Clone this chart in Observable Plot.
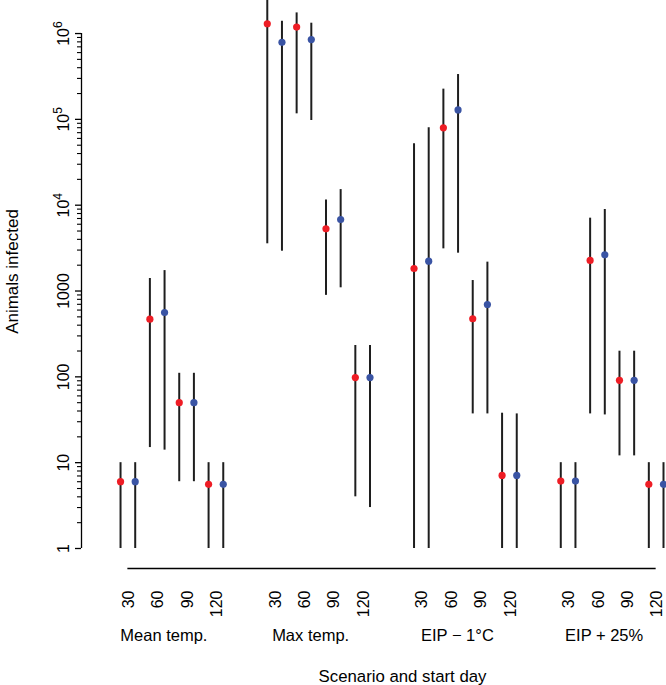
<!DOCTYPE html>
<html>
<head>
<meta charset="utf-8">
<script src="https://cdn.jsdelivr.net/npm/d3@7"></script>
<script src="https://cdn.jsdelivr.net/npm/@observablehq/plot@0.6"></script>
<style>
  html, body { margin: 0; padding: 0; background: #fff; }
  svg { font-family: "Liberation Sans", Arial, Helvetica, sans-serif; }
</style>
</head>
<body>
<div id="chart"></div>
<script>
// ---- data ----
const scenarios = ["Mean temp.", "Max temp.", "EIP \u2212 1\u00B0C", "EIP + 25%"];
const startDays = [30, 60, 90, 120];
const yTicks = [1, 10, 100, 1000, 1e4, 1e5, 1e6];
const yTickLabels = ["1", "10", "100", "1000", "10^4", "10^5", "10^6"];

// red series (per scenario, per start day)
const redEst  = [[6, 470, 50, 5.6], [1.3e6, 1.19e6, 5300, 98], [1830, 7.97e4, 475, 7.1], [6.1, 2270, 91, 5.6]];
const redLow  = [[1, 15, 6, 1], [3550, 1.16e5, 890, 4], [1, 3100, 37, 1], [1, 37, 12, 1]];
const redHigh = [[10, 1400, 110, 10], [3e6, 1.74e6, 1.15e4, 232], [5.2e4, 2.25e5, 1325, 37.7], [10, 7060, 199, 10]];
// blue series
const blueEst  = [[6, 562, 50, 5.6], [7.9e5, 8.5e5, 6810, 98], [2230, 1.29e5, 697, 7.1], [6.1, 2640, 91, 5.6]];
const blueLow  = [[1, 14, 6, 1], [2910, 9.7e4, 1090, 3], [1, 2760, 37, 1], [1, 36, 12, 1]];
const blueHigh = [[10, 1730, 110, 10], [1.39e6, 1.32e6, 1.52e4, 232], [8.0e4, 3.33e5, 2170, 37], [10, 8910, 199, 10]];

const seriesColors = {red: "#EE1D25", blue: "#3A54A4"};

// ---- build rows ----
const rows = [];
scenarios.forEach((sc, g) => {
  startDays.forEach((day, d) => {
    rows.push({scenario: sc, day, series: "red",  idx: g * 10 + d * 2,     est: redEst[g][d],  low: redLow[g][d],  high: redHigh[g][d]});
    rows.push({scenario: sc, day, series: "blue", idx: g * 10 + d * 2 + 1, est: blueEst[g][d], low: blueLow[g][d], high: blueHigh[g][d]});
  });
});
const dayTicks = [];
scenarios.forEach((sc, g) => startDays.forEach((day, d) => dayTicks.push({label: String(day), pos: g * 10 + d * 2 + 0.5})));
const groupRows = scenarios.map((sc, g) => ({label: sc, pos: g * 10 + 3.5}));

const xMin = -2.66, xMax = 37;
const yTop = Math.pow(10, 6.385);
const minorTicks = [];
for (let e = 0; e < 6; e++) for (let m = 2; m <= 9; m++) minorTicks.push(m * Math.pow(10, e));

const chart = Plot.plot({
  width: 666,
  height: 685,
  marginLeft: 81,
  marginRight: 3,
  marginTop: 0,
  marginBottom: 137,
  style: {fontFamily: "Liberation Sans, Arial, Helvetica, sans-serif", fontSize: "16px", background: "#fff"},
  x: {domain: [xMin, xMax], axis: null},
  y: {type: "log", domain: [1, yTop], axis: null},
  marks: [
    // y axis line and ticks
    Plot.ruleX([xMin], {y1: 1, y2: 1e6, stroke: "#000", strokeWidth: 1.3}),
    Plot.axisY(yTicks, {anchor: "left", tickSize: 6, tickFormat: () => "", stroke: "#000", strokeWidth: 1.3}),
    Plot.axisY(minorTicks, {anchor: "left", tickSize: 4, tickFormat: () => "", stroke: "#000", strokeWidth: 1.1}),
    Plot.text(yTicks, {x: () => xMin, y: d => d, text: (d, i) => yTickLabels[i], dx: -13, rotate: -90, textAnchor: "middle", lineAnchor: "bottom", fontSize: 16, fill: "#000"}),
    Plot.text(["Animals infected"], {frameAnchor: "left", dx: -69, dy: -3, rotate: -90, textAnchor: "middle", lineAnchor: "middle", fontSize: 17, fill: "#000"}),
    // x axis line
    Plot.ruleY([1], {x1: 0.5, x2: 36.5, dy: 20, stroke: "#000", strokeWidth: 1.3}),
    Plot.text(dayTicks, {x: "pos", frameAnchor: "bottom", text: "label", dx: 1, dy: 42, rotate: -90, textAnchor: "end", lineAnchor: "middle", fontSize: 16, fill: "#000"}),
    Plot.text(groupRows, {x: "pos", frameAnchor: "bottom", text: "label", dx: -8, dy: 87, textAnchor: "middle", lineAnchor: "middle", fontSize: 16.5, fill: "#000"}),
    Plot.text(["Scenario and start day"], {frameAnchor: "bottom", dx: 30, dy: 128, textAnchor: "middle", lineAnchor: "middle", fontSize: 16.8, fill: "#000"}),
    // intervals and points
    Plot.ruleX(rows, {x: "idx", y1: "low", y2: "high", stroke: "#1e1e1e", strokeWidth: 2}),
    Plot.dot(rows, {x: "idx", y: "est", r: 3.6, fill: d => seriesColors[d.series], stroke: "none"})
  ]
});

// render superscript exponents (10^n) as real tspans
d3.select(chart).selectAll("text").each(function() {
  const t = d3.select(this);
  const tsp = t.selectAll("tspan");
  const nodes = tsp.empty() ? [this] : tsp.nodes();
  nodes.forEach(n => {
    const s = n.textContent;
    const m = /^10\^(\d+)$/.exec(s);
    if (m) {
      const el = d3.select(n);
      el.text("10");
      el.append("tspan").attr("baseline-shift", "super").attr("font-size", "12px").text(m[1]);
    }
  });
});

document.getElementById("chart").appendChild(chart);
</script>
</body>
</html>
